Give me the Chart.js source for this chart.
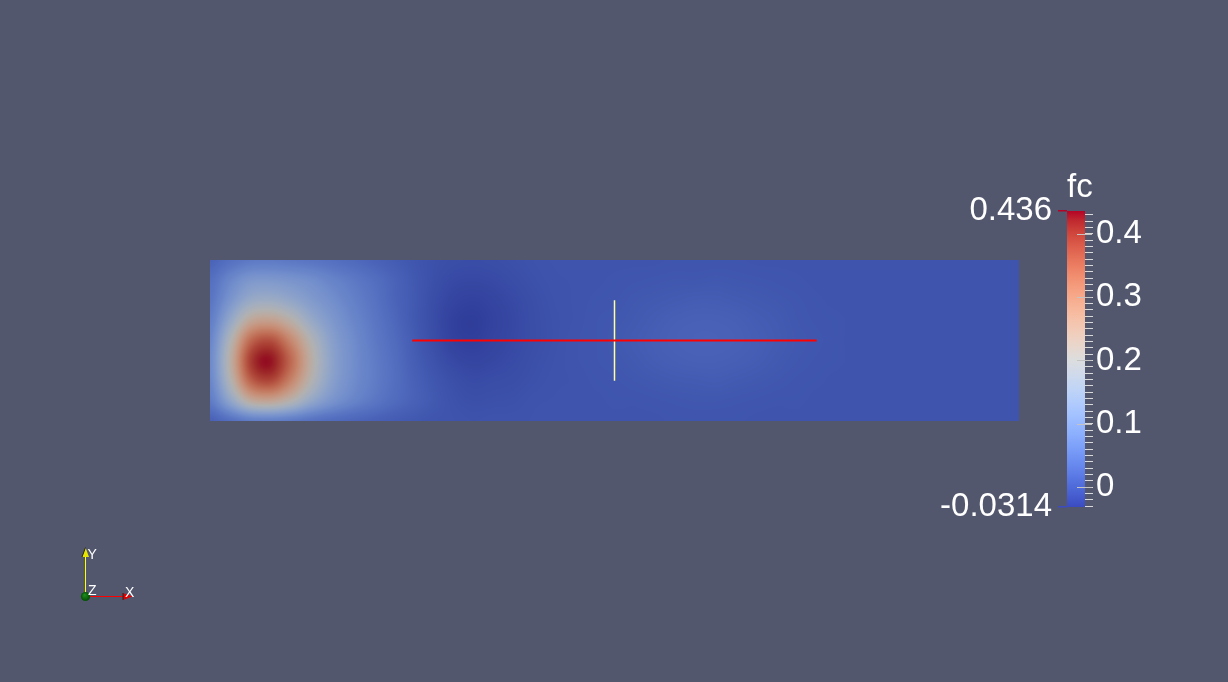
<!DOCTYPE html>
<html>
<head>
<meta charset="utf-8">
<script src="https://cdn.jsdelivr.net/npm/chart.js@4.4.1/dist/chart.umd.min.js"></script>
<style>
  html, body { margin: 0; padding: 0; background: #52576e; overflow: hidden; }
  #wrap { position: relative; width: 1228px; height: 682px; }
  #wrap canvas { position: absolute; left: 0; top: 0; }
</style>
</head>
<body>
<div id="wrap">
  <canvas id="field" width="1228" height="682"></canvas>
  <canvas id="legend" width="1228" height="682"></canvas>
</div>
<script>
// ---------------- data ----------------
const fieldName = 'fc';
const fcRange = [-0.0314, 0.436];          // data range shown at the colour bar ends
const colorbarTicks = [0, 0.1, 0.2, 0.3, 0.4];

// sample positions of the field (domain x 0..5, y 0..1)
const gridX = [0, 0.125, 0.25, 0.375, 0.5, 0.625, 0.75, 0.875, 1, 1.125, 1.25, 1.375, 1.5, 1.625, 1.75, 1.875,
               2, 2.125, 2.25, 2.375, 2.5, 2.625, 2.75, 2.875, 3, 3.125, 3.25, 3.375, 3.5, 3.625, 3.75, 3.875,
               4, 4.125, 4.25, 4.375, 4.5, 4.625, 4.75, 4.875, 5];
const gridY = [0, 0.125, 0.25, 0.375, 0.5, 0.625, 0.75, 0.875, 1];

// fc values read along each row (left to right)
const fcAtY0     = [0.017,0.037,0.057,0.061,0.053,0.041,0.032,0.024,0.018,0.011,0.006,0.001,-0.001,-0.003,-0.002,-0.002,-0.001,0,0,0,0,0,0,0.001,0.001,0.001,0.001,0,0,0,0,0,0,0,0,0,0,0,0,0,0];
const fcAtY0125  = [0.055,0.137,0.228,0.245,0.206,0.144,0.100,0.072,0.051,0.033,0.019,0.007,-0.003,-0.007,-0.006,-0.005,-0.002,-0.001,0,0,0.001,0.001,0.002,0.003,0.004,0.004,0.003,0.002,0.001,0.001,0,0,0,0,0,0,0,0,0,0,0];
const fcAtY025   = [0.073,0.199,0.350,0.383,0.306,0.204,0.128,0.087,0.061,0.039,0.019,0.004,-0.007,-0.013,-0.011,-0.009,-0.005,-0.002,-0.001,0.001,0.002,0.004,0.006,0.008,0.009,0.010,0.008,0.006,0.004,0.002,0.001,0,0,0,0,0,0,0,0,0,0];
const fcAtY0375  = [0.079,0.219,0.393,0.428,0.343,0.222,0.135,0.090,0.061,0.038,0.015,-0.002,-0.016,-0.021,-0.018,-0.013,-0.007,-0.003,0,0.002,0.004,0.007,0.011,0.014,0.016,0.016,0.014,0.011,0.007,0.004,0.002,0.001,0,0,0,0,0,0,0,0,0];
const fcAtY05    = [0.072,0.196,0.342,0.375,0.300,0.201,0.127,0.087,0.057,0.034,0.012,-0.008,-0.024,-0.028,-0.022,-0.016,-0.009,-0.004,0,0.002,0.005,0.009,0.013,0.017,0.019,0.019,0.017,0.013,0.009,0.005,0.003,0.001,0,0,0,0,0,0,0,0,0];
const fcAtY0625  = [0.059,0.145,0.238,0.255,0.216,0.152,0.109,0.077,0.052,0.029,0.008,-0.010,-0.026,-0.030,-0.024,-0.017,-0.009,-0.004,-0.001,0.002,0.004,0.007,0.011,0.015,0.017,0.017,0.015,0.011,0.008,0.004,0.002,0.001,0,0,0,0,0,0,0,0,0];
const fcAtY075   = [0.047,0.101,0.152,0.161,0.142,0.114,0.090,0.066,0.046,0.024,0.008,-0.009,-0.021,-0.025,-0.021,-0.015,-0.008,-0.003,-0.001,0.001,0.002,0.005,0.007,0.009,0.011,0.011,0.009,0.007,0.005,0.003,0.001,0,0,0,0,0,0,0,0,0,0];
const fcAtY0875  = [0.037,0.075,0.105,0.108,0.100,0.088,0.070,0.054,0.038,0.022,0.007,-0.006,-0.015,-0.017,-0.015,-0.010,-0.005,-0.002,-0.001,0,0.001,0.002,0.003,0.004,0.004,0.005,0.004,0.003,0.002,0.001,0,0,0,0,0,0,0,0,0,0,0];
const fcAtY1     = [0.020,0.039,0.053,0.055,0.051,0.046,0.039,0.030,0.021,0.012,0.003,-0.005,-0.009,-0.011,-0.009,-0.006,-0.003,-0.001,0,0,0,0,0,0.001,0.001,0.001,0.001,0,0,0,0,0,0,0,0,0,0,0,0,0,0];
const fcRows = [fcAtY0, fcAtY0125, fcAtY025, fcAtY0375, fcAtY05, fcAtY0625, fcAtY075, fcAtY0875, fcAtY1];

// probe line and its centre cross (domain coordinates)
const probeLineX = [1.25, 3.75];
const probeLineY = [0.5, 0.5];
const probeCrossX = [2.5, 2.5];
const probeCrossY = [0.25, 0.75];

// ---------------- styling ----------------
const FONT = "'Liberation Sans', Arial, sans-serif";
Chart.defaults.font.family = FONT;
const coolWarm = [[59,76,192],[68,90,204],[77,104,215],[87,117,225],[98,130,234],[108,142,241],[119,154,247],
  [130,165,251],[141,176,254],[152,185,255],[163,194,255],[174,201,253],[184,208,249],[194,213,244],[204,217,238],
  [213,219,230],[221,221,221],[229,216,209],[236,211,197],[241,204,185],[245,196,173],[247,187,160],[247,177,148],
  [247,166,135],[244,154,123],[241,141,111],[236,127,99],[229,112,88],[222,96,77],[213,80,66],[203,62,56],
  [192,40,47],[180,4,38]];
const SHADE = 0.8;

function cmap(t) {
  t = Math.min(1, Math.max(0, t));
  const f = t * (coolWarm.length - 1);
  const i = Math.min(Math.floor(f), coolWarm.length - 2);
  const u = f - i, a = coolWarm[i], b = coolWarm[i + 1];
  return [a[0] + (b[0] - a[0]) * u, a[1] + (b[1] - a[1]) * u, a[2] + (b[2] - a[2]) * u];
}

function fracIndex(arr, v) {
  const n = arr.length;
  if (v <= arr[0]) return 0;
  if (v >= arr[n - 1]) return n - 1;
  let i = 0;
  while (i < n - 2 && arr[i + 1] <= v) i++;
  return i + (v - arr[i]) / (arr[i + 1] - arr[i]);
}
function cr(p0, p1, p2, p3, t) {
  return p1 + 0.5 * t * (p2 - p0 + t * (2 * p0 - 5 * p1 + 4 * p2 - p3 + t * (3 * (p1 - p2) + p3 - p0)));
}
function fieldAt(fx, fy) {
  const nx = gridX.length, ny = gridY.length;
  const ix = Math.min(Math.floor(fx), nx - 2), iy = Math.min(Math.floor(fy), ny - 2);
  const tx = fx - ix, ty = fy - iy;
  const g = (i, j) => fcRows[Math.max(0, Math.min(ny - 1, j))][Math.max(0, Math.min(nx - 1, i))];
  const r = [];
  for (let k = -1; k <= 2; k++) {
    r.push(cr(g(ix - 1, iy + k), g(ix, iy + k), g(ix + 1, iy + k), g(ix + 2, iy + k), tx));
  }
  return cr(r[0], r[1], r[2], r[3], ty);
}

const fieldSurface = {
  id: 'fieldSurface',
  beforeDatasetsDraw(chart) {
    const { ctx, chartArea: a, scales } = chart;
    const x0 = Math.round(a.left), y0 = Math.round(a.top);
    const w = Math.round(a.right) - x0, h = Math.round(a.bottom) - y0;
    const img = ctx.createImageData(w, h);
    const fxs = [], fys = [];
    for (let px = 0; px < w; px++) fxs.push(fracIndex(gridX, scales.x.getValueForPixel(x0 + px + 0.5)));
    for (let py = 0; py < h; py++) fys.push(fracIndex(gridY, scales.y.getValueForPixel(y0 + py + 0.5)));
    const span = fcRange[1] - fcRange[0];
    let k = 0;
    for (let py = 0; py < h; py++) {
      for (let px = 0; px < w; px++) {
        const v = fieldAt(fxs[px], fys[py]);
        const c = cmap((v - fcRange[0]) / span);
        img.data[k++] = c[0] * SHADE;
        img.data[k++] = c[1] * SHADE;
        img.data[k++] = c[2] * SHADE;
        img.data[k++] = 255;
      }
    }
    ctx.putImageData(img, x0, y0);
  }
};

const triad = {
  id: 'triad',
  afterDraw(chart) {
    const ctx = chart.ctx;
    ctx.save();
    // Y axis
    ctx.strokeStyle = '#ffff00'; ctx.lineWidth = 1;
    ctx.beginPath(); ctx.moveTo(85.5, 596); ctx.lineTo(85.5, 554); ctx.stroke();
    ctx.fillStyle = '#e6e600';
    ctx.beginPath(); ctx.moveTo(85.5, 547.5); ctx.lineTo(82, 557); ctx.lineTo(89, 557); ctx.closePath(); ctx.fill();
    ctx.strokeStyle = '#222'; ctx.beginPath(); ctx.moveTo(82, 557); ctx.lineTo(85.5, 547.5); ctx.stroke();
    // X axis
    ctx.strokeStyle = '#ff0000';
    ctx.beginPath(); ctx.moveTo(86, 596.5); ctx.lineTo(124, 596.5); ctx.stroke();
    ctx.fillStyle = '#e00000';
    ctx.beginPath(); ctx.moveTo(132.5, 596.5); ctx.lineTo(123, 593); ctx.lineTo(123, 600); ctx.closePath(); ctx.fill();
    ctx.strokeStyle = '#222'; ctx.beginPath(); ctx.moveTo(123, 593); ctx.lineTo(123, 600); ctx.stroke();
    // Z sphere
    const g = ctx.createRadialGradient(84.5, 595, 0.5, 85.5, 596.5, 5);
    g.addColorStop(0, '#1d8a1d'); g.addColorStop(1, '#004a00');
    ctx.fillStyle = g;
    ctx.beginPath(); ctx.arc(85.5, 596.5, 4.6, 0, Math.PI * 2); ctx.fill();
    // labels
    ctx.fillStyle = '#ffffff';
    ctx.font = '14px ' + FONT;
    ctx.textBaseline = 'alphabetic'; ctx.textAlign = 'left';
    ctx.fillText('Y', 87.5, 558.5);
    ctx.fillText('Z', 88, 595);
    ctx.fillText('X', 125, 597);
    ctx.restore();
  }
};

// ---------------- field view ----------------
new Chart(document.getElementById('field'), {
  type: 'scatter',
  data: {
    datasets: [
      { data: probeLineX.map((x, i) => ({ x, y: probeLineY[i] })), showLine: true,
        borderColor: '#ff0000', borderWidth: 2, pointRadius: 0 },
      { data: probeCrossX.map((x, i) => ({ x, y: probeCrossY[i] })), showLine: true,
        borderColor: '#ffffa0', borderWidth: 1.5, pointRadius: 0 }
    ]
  },
  options: {
    responsive: false, animation: false, devicePixelRatio: 1,
    layout: { padding: { left: 210, right: 209, top: 260, bottom: 261 } },
    scales: {
      x: { type: 'linear', min: 0, max: 5, display: false },
      y: { type: 'linear', min: 0, max: 1, display: false }
    },
    plugins: { legend: { display: false }, tooltip: { enabled: false } }
  },
  plugins: [fieldSurface, triad]
});

// ---------------- colour legend ----------------
const minorTickValues = [];
for (let k = -3; k <= 43; k++) minorTickValues.push(k / 100);

const legendExtras = {
  id: 'legendExtras',
  afterDraw(chart) {
    const { ctx, chartArea: a, scales } = chart;
    ctx.save();
    // long major tick marks reaching into the bar
    ctx.strokeStyle = '#c4c4c4'; ctx.lineWidth = 1;
    colorbarTicks.forEach(v => {
      const y = Math.round(scales.y.getPixelForValue(v)) + 0.5;
      ctx.beginPath(); ctx.moveTo(a.right - 8, y); ctx.lineTo(a.right + 7, y); ctx.stroke();
    });
    // title
    ctx.fillStyle = '#ffffff';
    ctx.font = '33px ' + FONT;
    ctx.textAlign = 'left'; ctx.textBaseline = 'alphabetic';
    ctx.fillText(fieldName, a.left, a.top - 14);
    ctx.restore();
  }
};

new Chart(document.getElementById('legend'), {
  type: 'bar',
  data: {
    labels: [fieldName],
    datasets: [{
      data: [[fcRange[0], fcRange[1]]],
      barPercentage: 1, categoryPercentage: 1, borderWidth: 0,
      backgroundColor: (c) => {
        const area = c.chart.chartArea;
        if (!area) return '#888';
        const gr = c.chart.ctx.createLinearGradient(0, area.bottom, 0, area.top);
        coolWarm.forEach((col, i) => gr.addColorStop(i / (coolWarm.length - 1), `rgb(${col[0]},${col[1]},${col[2]})`));
        return gr;
      }
    }]
  },
  options: {
    responsive: false, animation: false, devicePixelRatio: 1,
    layout: { padding: { left: 927, right: 68, top: 211, bottom: 175 } },
    scales: {
      x: { display: false },
      y: {
        type: 'linear', position: 'right', min: fcRange[0], max: fcRange[1],
        afterBuildTicks: s => { s.ticks = minorTickValues.map(v => ({ value: v })); },
        afterFit: s => { s.width = 75; },
        grid: { drawOnChartArea: false, drawTicks: true, tickLength: 8, color: '#dadada', lineWidth: 1 },
        border: { display: false },
        ticks: {
          autoSkip: false, padding: 3, color: '#ffffff', font: { size: 33 },
          callback: v => { const m = colorbarTicks.find(t => Math.abs(t - v) < 1e-6); return m === undefined ? '' : String(m); }
        }
      },
      yl: {
        type: 'linear', position: 'left', min: fcRange[0], max: fcRange[1],
        afterBuildTicks: s => { s.ticks = fcRange.map(v => ({ value: v })); },
        afterFit: s => { s.width = 140; },
        grid: { drawOnChartArea: false, drawTicks: true, tickLength: 9, lineWidth: 1.5,
                color: c => (c.tick && c.tick.value > 0) ? '#b40426' : '#3b4cc0' },
        border: { display: false },
        ticks: { autoSkip: false, padding: 6, color: '#ffffff', font: { size: 33 }, callback: v => String(v) }
      }
    },
    plugins: { legend: { display: false }, tooltip: { enabled: false } }
  },
  plugins: [legendExtras]
});
</script>
</body>
</html>
